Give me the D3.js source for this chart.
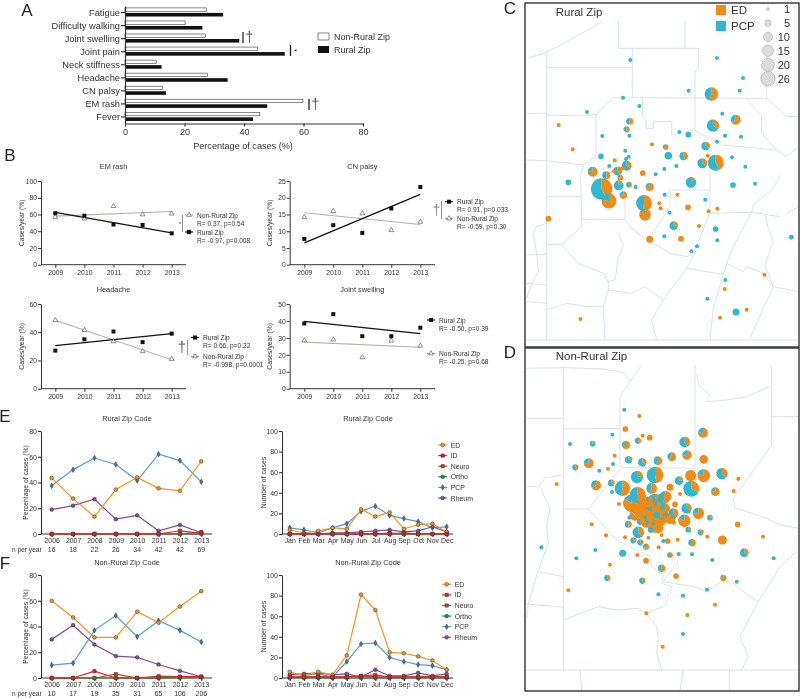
<!DOCTYPE html>
<html><head><meta charset="utf-8">
<script src="https://cdn.jsdelivr.net/npm/d3@7"></script>
<style>html,body{margin:0;padding:0;background:#fff}svg{display:block;filter:blur(0.3px)}text{font-family:"Liberation Sans",Arial,sans-serif;fill:#333}</style>
</head><body><svg id="c" width="800" height="698"></svg>
<script>
// ---- Panel A
const symptoms=["Fatigue","Difficulty walking","Joint swelling","Joint pain","Neck stiffness","Headache","CN palsy","EM rash","Fever"];
const aNonRural=[27.3,20.2,27,44.5,10.5,27.7,12.6,59.8,45.3];
const aRural=[33,26,38.4,53.7,12.3,34.5,13.8,47.8,43];
// ---- Panel B
const years5=[2009,2010,2011,2012,2013];
const emRural=[61.5,58.5,48,47.5,37.5], emNon=[57,55,70,60,61];
const emRuralFit=[62.5,38], emNonFit=[58,63.5];
const haRural=[27,35,40.5,33,39], haNon=[48.5,41.5,33.5,26.5,21];
const haRuralFit=[30.5,39], haNonFit=[48.5,20.5];
const cnRural=[7.7,11.8,9.5,16.8,23.2], cnNon=[14.2,16,15.3,10.3,12.8];
const cnRuralFit=[6.5,21], cnNonFit=[15.5,12];
const jsRural=[38.5,44,31,31,36], jsNon=[28.5,29,18.5,28.3,25.3];
const jsRuralFit=[39.8,32.5], jsNonFit=[27.5,24.5];
// ---- Panels E, F
const years8=[2006,2007,2008,2009,2010,2011,2012,2013];
const months=["Jan","Feb","Mar","Apr","May","Jun","Jul","Aug","Sep","Oct","Nov","Dec"];
const specialties=["ED","ID","Neuro","Ortho","PCP","Rheum"];
const nRural=[16,18,22,26,34,42,42,69], nNon=[10,17,19,35,31,65,106,206];
const eYearED=[43.5,27.5,13.5,34.5,44,35.5,33.5,56.5], eYearPCP=[37.5,50,59,54,41.5,62,57,40.5], eYearRheum=[19,22,27,11.5,14.5,2.5,7,1];
const eYearID=[0,0,0,0,0,0,2.5,0.5], eYearNeuro=[0,0,0,0,0,0,0,1.5], eYearOrtho=[0,0,0,0,0,0,0,0];
const fYearED=[60,47,31.5,31.5,51.5,43,55.5,67.5], fYearPCP=[10,11.5,37,48.5,32,44.5,37,28], fYearRheum=[30,41,26,17,16,10.5,5.5,1];
const fYearID=[0,0,5.3,0,0,0,1,1], fYearNeuro=[0,0,0,3,0,1.5,1,1], fYearOrtho=[0,0,0,0,0,0,0,0.5];
const eMonED=[4,1,3,6,5,24,17,21,5,9,10,2], eMonPCP=[6,4,1,6,10,22,27,18,15,12,6,7], eMonRheum=[0,0,0,1,1,2,3,4,2,3,7,2];
const eMonID=[0,0,0,0,0,0,0,0,1,0,0,0], eMonNeuro=[0,0,0,0,0,0,0,1,0,0,0,0], eMonOrtho=[0,0,0,0,0,0,0,0,0,0,0,0];
const fMonED=[6,2,6,3,22,81,66,25,24,21,17,8], fMonPCP=[4,3,4,1,16,33,34,20,16,13,12,8], fMonRheum=[3,4,5,3,4,1,8,2,2,5,2,4];
const fMonID=[1,1,1,1,1,2,1,1,1,1,1,1], fMonNeuro=[1,1,1,1,1,2,3,1,1,1,1,1], fMonOrtho=[0,0,0,0,0,0,0,0,0,0,0,0];
// ---- Panels C, D : [mapX, mapY, ED cases, PCP cases]
const sizeLegend=[1,5,10,15,20,26];
const ruralSites=[[331,180,0,2],[591,174,0,2],[669,234,0,2],[659,272,0,2],[506,272,0,2],[574,282,12,10],[309,293,0,2],[358,318,0,2],[201,336,0,2],[116,375,2,0],[329,364,3,3],[320,388,3,2],[247,408,0,2],[328,407,0,2],[607,341,0,2],[647,359,8,4],[579,377,6,12],[478,396,0,2],[505,404,0,4],[615,407,0,2],[663,410,0,2],[158,448,2,0],[396,433,2,0],[437,441,3,1],[557,438,3,6],[591,425,0,2],[316,452,0,2],[326,470,0,2],[243,469,0,4],[445,467,0,7],[491,468,4,5],[563,467,2,0],[636,472,0,2],[587,488,13,18],[547,490,4,8],[284,481,2,0],[268,498,0,2],[318,477,0,2],[469,498,0,2],[676,500,0,2],[320,497,4,8],[308,505,2,0],[293,513,4,6],[282,514,2,0],[218,515,9,3],[259,526,4,4],[368,519,4,0],[433,507,0,2],[407,523,0,2],[145,547,0,4],[245,567,24,32],[267,603,21,6],[296,556,2,10],[327,554,2,2],[347,561,0,2],[389,561,6,2],[301,533,3,1],[310,585,5,2],[513,547,2,12],[639,555,0,4],[705,551,0,2],[372,609,16,15],[375,644,15,2],[434,584,0,2],[472,584,2,0],[418,610,2,0],[422,625,2,0],[556,599,0,2],[504,622,4,0],[592,626,2,0],[566,634,2,0],[449,638,0,2],[461,677,2,7],[537,678,2,0],[587,687,0,4],[85,656,4,0],[389,718,6,0],[433,709,0,2],[483,716,4,0],[592,721,0,2],[531,739,0,2],[514,754,0,2],[814,712,0,3],[733,824,2,0],[616,840,0,2],[614,867,2,0],[562,896,0,2],[648,936,0,6],[680,929,2,0],[600,953,2,0],[181,957,2,0]];
const nonRuralSites=[[313,194,0,2],[358,213,2,0],[316,252,4,0],[277,269,0,2],[368,272,2,0],[389,278,4,0],[354,287,2,3],[318,300,6,2],[150,297,0,2],[218,296,1,3],[549,263,9,3],[494,291,6,8],[501,330,8,3],[455,335,6,3],[414,347,5,4],[367,352,3,6],[326,344,2,5],[284,332,2,0],[279,357,0,2],[264,371,2,0],[238,377,0,2],[206,355,9,3],[166,367,2,3],[551,343,9,0],[405,390,16,18],[351,396,4,14],[512,392,15,0],[551,392,16,4],[606,386,6,10],[655,401,2,0],[110,417,2,0],[228,421,8,4],[274,414,2,4],[307,430,15,14],[276,441,0,2],[395,430,8,6],[477,407,2,7],[450,427,6,0],[514,431,10,21],[586,440,7,2],[641,438,2,0],[480,447,2,0],[437,455,6,10],[353,450,8,24],[335,475,30,6],[375,485,22,14],[405,470,20,10],[420,495,28,8],[385,510,24,6],[365,500,16,10],[395,500,20,4],[350,490,14,0],[420,525,18,2],[385,470,12,2],[365,460,10,0],[435,490,8,4],[440,515,8,2],[410,510,0,5],[400,520,26,4],[345,510,14,2],[430,460,8,8],[450,520,14,2],[380,530,16,2],[360,480,20,4],[410,485,22,4],[460,505,5,7],[500,490,4,9],[535,505,12,4],[493,527,16,3],[465,478,4,0],[570,518,1,3],[405,540,22,8],[355,562,6,10],[325,538,3,3],[360,530,2,3],[328,518,0,2],[392,555,0,4],[385,535,3,2],[415,550,12,0],[430,525,3,1],[425,570,2,0],[443,588,4,0],[430,588,0,2],[473,584,2,0],[505,554,1,3],[542,562,2,3],[562,575,2,0],[516,593,4,3],[607,585,10,0],[462,533,2,0],[258,571,2,0],[315,577,2,0],[340,586,2,3],[361,592,2,3],[378,605,3,2],[385,578,2,0],[416,607,2,0],[297,477,2,0],[215,538,2,0],[653,538,4,0],[729,575,2,0],[64,607,0,2],[169,640,0,2],[226,615,0,2],[308,625,0,6],[352,630,2,0],[450,630,2,2],[476,627,0,2],[516,628,0,2],[577,645,0,2],[673,623,3,6],[761,640,0,2],[270,659,2,0],[378,647,4,0],[425,670,4,3],[468,693,4,0],[262,699,2,3],[367,707,2,3],[610,699,4,1],[650,710,0,2],[145,736,2,0],[561,734,0,2],[415,748,0,2],[489,752,0,2],[585,779,2,0],[379,805,2,0],[502,810,2,0],[489,867,0,2],[428,905,2,0]];
const ruralBorders=[
[[20,175],[80,157],[185,100],[215,85],[245,65]],[[80,157],[80,1020]],[[20,340],[80,340]],[[80,203],[337,203]],
[[295,65],[295,145],[535,145]],[[337,145],[337,292]],[[495,65],[495,145]],[[535,145],[535,210],[525,215],[525,292]],
[[740,150],[740,295]],[[280,293],[740,295]],[[80,345],[190,348],[228,343],[280,293]],[[228,343],[228,470]],
[[368,292],[368,350],[378,362],[378,385],[400,385],[400,365],[455,365],[455,405],[520,390],[600,430]],[[525,292],[525,390]],
[[680,295],[725,350],[725,400],[770,450],[800,470],[837,440]],[[740,295],[800,350],[837,350]],[[610,435],[770,450]],
[[20,480],[80,482],[190,495],[228,470]],[[190,495],[182,525],[185,680]],[[80,589],[185,589]],[[185,658],[315,658]],[[315,600],[315,658]],
[[315,658],[335,685],[375,715],[450,760],[500,770],[520,760],[570,640]],[[450,570],[450,620],[395,705]],[[450,570],[570,570]],[[570,430],[570,640]],
[[570,640],[695,637],[780,650]],[[695,637],[640,740],[620,790],[580,925],[570,1020]],[[185,680],[125,733],[80,733]],
[[125,733],[175,790],[250,820],[265,845],[265,870],[335,880],[375,860],[430,900]],[[295,700],[310,735],[295,775],[285,840],[260,845]],
[[500,805],[610,823]],[[430,900],[395,960],[410,1020]],[[430,900],[500,805],[530,750]],[[620,790],[670,815],[680,800],[730,820],[760,860],[837,875]],
[[760,860],[735,915],[690,1015]],[[780,525],[760,565],[700,615],[695,637]],[[80,930],[140,910],[200,920],[250,920],[265,870]],[[250,920],[255,1020]],
[[20,905],[80,910]],[[20,1020],[837,1020]],[[20,765],[80,763]],[[20,850],[80,855]],[[735,645],[745,685],[760,725],[735,795],[760,860]],
[[80,670],[50,680],[40,700],[50,760],[55,815],[35,850],[20,895]],[[800,640],[837,620]]
];
const nonRuralBorders=[
[[20,70],[130,68],[250,72],[310,82],[330,108]],[[130,65],[130,975]],[[20,220],[130,220]],[[130,252],[300,250]],[[300,155],[300,367]],[[300,155],[365,60]],
[[525,60],[525,370]],[[305,367],[525,370]],[[755,60],[755,300],[640,460],[645,490],[680,500],[740,520],[780,540],[837,550]],[[755,215],[837,215]],
[[530,90],[540,125],[570,150],[560,170],[620,165],[680,155],[750,125]],[[20,425],[55,425],[75,400],[125,390]],[[60,425],[90,490],[80,545],[85,595],[55,675],[40,725],[25,775],[20,820]],
[[130,492],[205,492],[305,368]],[[205,492],[290,585],[390,635],[395,665],[430,690],[425,715],[455,725],[450,745],[435,760],[440,780],[380,805],[355,790],[290,795],[235,785],[130,825]],
[[55,680],[130,695]],[[20,777],[130,787]],[[380,805],[410,845],[415,885],[410,925],[425,975]],[[430,710],[520,725],[560,740],[610,705],[640,715],[690,755],[715,770],[780,665],[830,620]],
[[715,770],[660,875],[685,935],[665,975]],[[20,975],[837,975]],[[180,975],[185,1035]],[[490,975],[480,1035]],[[628,975],[628,1035]],[[480,625],[470,655],[430,710]]
];

const svg=d3.select("#c");
const colors={ED:"#f7941d",ID:"#ed1c24",Neuro:"#a0561d",Ortho:"#0a9a4a",PCP:"#5b9bd5",Rheum:"#7d4f9e"};
const mapOrange="#f28a17", mapTeal="#2fb8cf";
const txt=(x,y,s,size,anchor="start",fill="#333")=>svg.append("text").attr("x",x).attr("y",y).attr("font-size",size).attr("text-anchor",anchor).attr("dominant-baseline","central").style("fill",fill).text(s);
const vline=(x,y1,y2,c="#333",w=1)=>svg.append("line").attr("x1",x).attr("x2",x).attr("y1",y1).attr("y2",y2).attr("stroke",c).attr("stroke-width",w);
const dagger=(x,y,c="#555")=>txt(x,y,"†",14,"middle",c);
function styleAxis(g,fs,w=1){g.selectAll("path,line").attr("stroke","#333").attr("stroke-width",w);g.selectAll("text").attr("font-size",fs).style("fill","#333");}

[["A",27,10],["B",10,155],["C",510,8],["D",510,352],["E",5,416],["F",5,563]].forEach(d=>txt(d[1],d[2],d[0],17,"middle","#222"));

// Panel A
{const x=d3.scaleLinear().domain([0,80]).range([125,363]);
 const y=d3.scaleBand().domain(symptoms).range([6,123.5]).paddingInner(0).paddingOuter(0);
 svg.append("g").selectAll("rect").data(symptoms).join("rect").attr("x",x(0)).attr("y",d=>y(d)+1.9).attr("height",3.4).attr("width",(d,i)=>x(aNonRural[i])-x(0)).attr("fill","#fff").attr("stroke","#555").attr("stroke-width",.7);
 svg.append("g").selectAll("rect").data(symptoms).join("rect").attr("x",x(0)).attr("y",d=>y(d)+6.9).attr("height",3.6).attr("width",(d,i)=>x(aRural[i])-x(0)).attr("fill","#111");
 styleAxis(svg.append("g").attr("transform","translate(125,0)").call(d3.axisLeft(y).tickSize(4).tickPadding(1).tickSizeOuter(0)),9.3,1.2);
 styleAxis(svg.append("g").attr("transform","translate(0,123.5)").call(d3.axisBottom(x).tickValues([0,20,40,60,80]).tickSize(3).tickPadding(2).tickSizeOuter(0)),9.1,1.2);
 txt(243,146,"Percentage of cases (%)",9.1,"middle");
 svg.append("rect").attr("x",318).attr("y",33).attr("width",11).attr("height",7).attr("fill","#fff").attr("stroke","#555").attr("stroke-width",.7);
 svg.append("rect").attr("x",318).attr("y",46).attr("width",11).attr("height",7).attr("fill","#111");
 txt(334,37,"Non-Rural Zip",9); txt(334,50,"Rural Zip",9);
 vline(243,32,43,"#222",1.3); dagger(249.5,37);
 vline(290.5,45,56,"#222",1.3); txt(295.5,51,"*",8,"middle");
 vline(309,99,110,"#222",1.3); dagger(315.5,104);
}
// Panel B
function trend(o){
 const x=d3.scalePoint().domain(years5).range([o.x0,o.x1]);
 const y=d3.scaleLinear().domain([0,o.max]).range([o.yb,o.yt]);
 styleAxis(svg.append("g").attr("transform",`translate(${o.ax},0)`).call(d3.axisLeft(y).tickValues(o.ticks).tickSize(3).tickPadding(1).tickSizeOuter(0)),6.8,1);
 const xa=svg.append("g").attr("transform",`translate(0,${o.yb})`).call(d3.axisBottom(x).tickFormat(d3.format("d")).tickSize(3).tickPadding(2).tickSizeOuter(0));
 xa.select("path").attr("d",`M${o.ax},0H${o.xe}`); styleAxis(xa,6.8,1);
 txt((o.ax+o.xe)/2,o.yt-15,o.title,7.4,"middle");
 svg.append("text").attr("transform",`translate(${o.ax-20},${(o.yt+o.yb)/2}) rotate(-90)`).attr("text-anchor","middle").attr("dominant-baseline","central").attr("font-size",6.8).text("Cases/year (%)");
 const lx=d3.line().x(d=>x(d[0])).y(d=>y(d[1]));
 svg.append("path").attr("d",lx([[2009,o.nf[0]],[2013,o.nf[1]]])).attr("fill","none").attr("stroke","#b5b0ae").attr("stroke-width",1.1);
 svg.append("path").attr("d",lx([[2009,o.rf[0]],[2013,o.rf[1]]])).attr("fill","none").attr("stroke","#111").attr("stroke-width",1.3);
 const tri=d3.symbol().type(d3.symbolTriangle).size(10);
 svg.append("g").selectAll("path").data(o.n).join("path").attr("d",tri).attr("transform",(d,i)=>`translate(${x(years5[i])},${y(d)})`).attr("fill","#fff").attr("stroke","#444").attr("stroke-width",.6);
 svg.append("g").selectAll("rect").data(o.r).join("rect").attr("x",(d,i)=>x(years5[i])-2).attr("y",d=>y(d)-2).attr("width",4).attr("height",4).attr("fill","#111");
 o.leg.forEach(l=>{
  svg.append("line").attr("x1",o.lx-4).attr("x2",o.lx+4).attr("y1",l[0]).attr("y2",l[0]).attr("stroke",l[1]?"#111":"#888").attr("stroke-width",l[1]?1.2:.8);
  if(l[1]) svg.append("rect").attr("x",o.lx-2).attr("y",l[0]-2).attr("width",4).attr("height",4).attr("fill","#111");
  else svg.append("path").attr("d",tri).attr("transform",`translate(${o.lx},${l[0]})`).attr("fill","#fff").attr("stroke","#444").attr("stroke-width",.6);
  txt(o.lx+8,l[0],l[2],6.6); txt(o.lx+8,l[0]+8.2,l[3],6.6);
 });
}
trend({title:"EM rash",ax:41,xe:186,x0:55.3,x1:171.7,yb:264.7,yt:181,max:100,ticks:[0,20,40,60,80,100],r:emRural,n:emNon,rf:emRuralFit,nf:emNonFit,lx:189,leg:[[215,0,"Non-Rural Zip","R= 0.37, p=0.54"],[232,1,"Rural Zip","R= -0.97, p=0.008"]]});
trend({title:"Headache",ax:41,xe:186,x0:55.3,x1:171.7,yb:388.7,yt:304,max:60,ticks:[0,20,40,60],r:haRural,n:haNon,rf:haRuralFit,nf:haNonFit,lx:195,leg:[[337.5,1,"Rural Zip","R= 0.66, p=0.22"],[356.5,0,"Non-Rural Zip","R= -0.998, p=0.0001"]]});
trend({title:"CN palsy",ax:289.7,xe:435,x0:304.3,x1:420.3,yb:264.7,yt:181,max:25,ticks:[0,5,10,15,20,25],r:cnRural,n:cnNon,rf:cnRuralFit,nf:cnNonFit,lx:449,leg:[[201.7,1,"Rural Zip","R= 0.91, p=0.033"],[218.5,0,"Non-Rural Zip","R= -0.59, p=0.30"]]});
trend({title:"Joint swelling",ax:289.7,xe:435,x0:304.3,x1:420.3,yb:388.7,yt:304,max:50,ticks:[0,10,20,30,40,50],r:jsRural,n:jsNon,rf:jsRuralFit,nf:jsNonFit,lx:431,leg:[[320,1,"Rural Zip","R= -0.50, p=0.39"],[353.5,0,"Non-Rural Zip","R= -0.25, p=0.68"]]});
vline(182.5,215,232,"#777",.8); txt(180,224,"*",6,"middle");
vline(187.5,340,355,"#777",.8); dagger(182,347);
vline(441.5,201,219,"#777",.8); dagger(436.5,210,"#888");

// Panels E, F
const symbolFor={ED:d3.symbolCircle,ID:d3.symbolSquare,Neuro:d3.symbolSquare,Ortho:d3.symbolCircle,PCP:d3.symbolDiamond,Rheum:d3.symbolCircle};
const drawOrder=["Ortho","Neuro","PCP","Rheum","ED","ID"];
function lines(o){
 const x=d3.scalePoint().domain(o.cats).range([o.x0,o.x1]);
 const y=d3.scaleLinear().domain([0,o.max]).range([o.yb,o.yt]);
 styleAxis(svg.append("g").attr("transform",`translate(${o.ax},0)`).call(d3.axisLeft(y).tickValues(o.ticks).tickSize(3).tickPadding(1).tickSizeOuter(0)),7,1.1);
 const xa=svg.append("g").attr("transform",`translate(0,${o.yb})`).call(d3.axisBottom(x).tickSize(3).tickPadding(1.5).tickSizeOuter(0));
 xa.select("path").attr("d",`M${o.ax},0H${o.xe}`); styleAxis(xa,6.9,1.1);
 txt(o.tx,o.ty,o.title,7.4,"middle");
 svg.append("text").attr("transform",`translate(${o.ax-o.yo},${(o.yt+o.yb)/2}) rotate(-90)`).attr("text-anchor","middle").attr("dominant-baseline","central").attr("font-size",6.8).text(o.ylab);
 const ln=d3.line().x((d,i)=>x(o.cats[i])).y(d=>y(d));
 drawOrder.forEach(k=>{
  svg.append("path").attr("d",ln(o.s[k])).attr("fill","none").attr("stroke",colors[k]).attr("stroke-width",1.2);
  svg.append("g").selectAll("path").data(o.s[k]).join("path").attr("d",d3.symbol().type(symbolFor[k]).size(k=="PCP"?9:11)).attr("transform",(d,i)=>`translate(${x(o.cats[i])},${y(d)})`).attr("fill",k=="PCP"?"#3f78ad":colors[k]).attr("stroke","#333").attr("stroke-width",.5);
 });
 if(o.n){txt(12,o.yb+15.5,"n per year",6.6); svg.append("g").selectAll("text").data(o.n).join("text").attr("x",(d,i)=>x(o.cats[i])).attr("y",o.yb+15.5).attr("text-anchor","middle").attr("dominant-baseline","central").attr("font-size",6.9).text(d=>d);}
 if(o.lx){specialties.forEach((k,i)=>{const ly=o.ly+i*10.6;
  svg.append("line").attr("x1",o.lx-4.5).attr("x2",o.lx+4.5).attr("y1",ly).attr("y2",ly).attr("stroke",colors[k]).attr("stroke-width",1.2);
  svg.append("path").attr("d",d3.symbol().type(symbolFor[k]).size(k=="PCP"?9:11)).attr("transform",`translate(${o.lx},${ly})`).attr("fill",k=="PCP"?"#3f78ad":colors[k]).attr("stroke","#333").attr("stroke-width",.5);
  txt(o.lx+8,ly,k,6.9);});}
}
const yrStr=years8.map(String);
lines({cats:yrStr,x0:51.7,x1:201.3,ax:41,xe:212,yo:16,yb:534,yt:431,max:80,ticks:[0,20,40,60,80],tx:127,ty:418,title:"Rural Zip Code",ylab:"Percentage of cases (%)",n:nRural,s:{ED:eYearED,ID:eYearID,Neuro:eYearNeuro,Ortho:eYearOrtho,PCP:eYearPCP,Rheum:eYearRheum}});
lines({cats:yrStr,x0:51.7,x1:201.3,ax:41,xe:212,yo:16,yb:678,yt:575,max:80,ticks:[0,20,40,60,80],tx:127,ty:562,title:"Non-Rural Zip Code",ylab:"Percentage of cases (%)",n:nNon,s:{ED:fYearED,ID:fYearID,Neuro:fYearNeuro,Ortho:fYearOrtho,PCP:fYearPCP,Rheum:fYearRheum}});
lines({cats:months,x0:289.7,x1:446.7,ax:282,xe:453,yo:19,yb:534,yt:431,max:100,ticks:[0,20,40,60,80,100],tx:368,ty:418,title:"Rural Zip Code",ylab:"Number of cases",lx:442.7,ly:445,s:{ED:eMonED,ID:eMonID,Neuro:eMonNeuro,Ortho:eMonOrtho,PCP:eMonPCP,Rheum:eMonRheum}});
lines({cats:months,x0:289.7,x1:446.7,ax:282,xe:453,yo:19,yb:678,yt:575,max:100,ticks:[0,20,40,60,80,100],tx:368,ty:562,title:"Non-Rural Zip Code",ylab:"Number of cases",lx:446.7,ly:584.3,s:{ED:fMonED,ID:fMonID,Neuro:fMonNeuro,Ortho:fMonOrtho,PCP:fMonPCP,Rheum:fMonRheum}});

// Maps
const rScale=d3.scaleSqrt().domain([0,26]).range([0,7.3]);
const pie=d3.pie().sort(null).value(d=>d);
function map(o){
 const x=d3.scaleLinear().domain([0,840]).range([520,800]);
 const y=d3.scaleLinear().domain([0,o.ySpan]).range([o.yTop,o.yTop+o.ySpan/3]);
 const ln=d3.line().x(d=>x(d[0])).y(d=>y(d[1]));
 svg.append("g").selectAll("path").data(o.borders).join("path").attr("d",ln).attr("fill","none").attr("stroke","#c9d8e0").attr("stroke-width",.7);
 const g=svg.append("g").selectAll("g").data(o.sites.slice().sort((a,b)=>(b[2]+b[3])-(a[2]+a[3]))).join("g").attr("transform",d=>`translate(${x(d[0])},${y(d[1])})`);
 g.each(function(d){
  const r=rScale(d[2]+d[3]), a=d3.arc().innerRadius(0).outerRadius(r);
  d3.select(this).selectAll("path").data(pie([d[2],d[3]])).join("path").attr("d",a).attr("fill",(p,i)=>i?mapTeal:mapOrange);
 });
 svg.append("rect").attr("x",525).attr("y",o.yTop+o.f0).attr("width",274).attr("height",o.fh).attr("fill","none").attr("stroke","#222").attr("stroke-width",1.3);
 txt(555.7,o.yTop+o.ty,o.title,11.5);
}
map({sites:ruralSites,borders:ruralBorders,ySpan:1050,yTop:0,f0:3,fh:344,ty:12,title:"Rural Zip"});
map({sites:nonRuralSites,borders:nonRuralBorders,ySpan:1059,yTop:345,f0:3,fh:343,ty:11,title:"Non-Rural Zip"});
[["ED",mapOrange,5],["PCP",mapTeal,21]].forEach(d=>{svg.append("rect").attr("x",716).attr("y",d[2]).attr("width",10).attr("height",10).attr("fill",d[1]);txt(731,d[2]+5,d[0],11.5);});
const legY=d3.scalePoint().domain(sizeLegend).range([9,78.7]);
sizeLegend.forEach(n=>{svg.append("circle").attr("cx",768).attr("cy",legY(n)).attr("r",rScale(n)).attr("fill","#dcdcdc").attr("stroke","#aaa").attr("stroke-width",.6);txt(790,legY(n),n,11,"end");});
</script></body></html>
